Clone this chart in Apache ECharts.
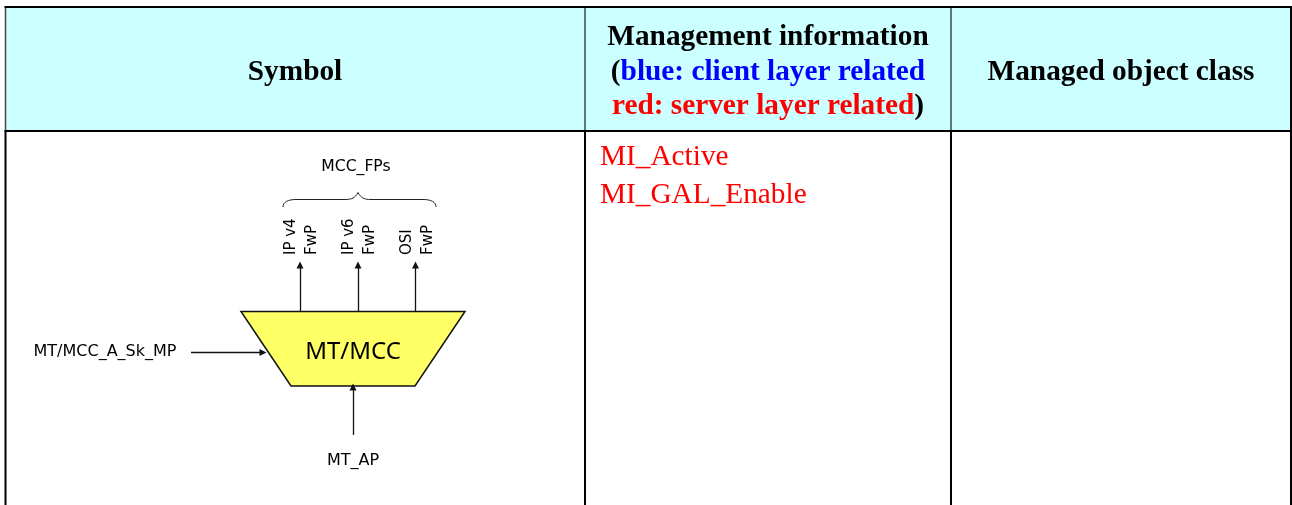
<!DOCTYPE html>
<html><head><meta charset="utf-8">
<style>html,body{margin:0;padding:0;background:#fff}#c{width:1292px;height:505px}</style>
<script src="https://cdn.jsdelivr.net/npm/echarts@6/dist/echarts.min.js"></script></head>
<body><div id="c"></div>
<script>
const SERIF='"Liberation Serif"', SANS='"DejaVu Sans"', BIG='"Noto Sans"';
const columnEdges=[5.5,585,951,1291];
const rowEdges=[7,131,505];
const headerFill='#ccffff';
const symbolOutline=[[241,311.5],[465,311.5],[415,386],[291,386]];
const arrows=[[[300,311],[300,265]],[[358,311],[358,265]],[[415.5,311],[415.5,265]],[[191,352.5],[263,352.5]],[[353,435],[353,387]]];
const brace=[[283,207],[283,202,288,199.5,296,199.5],[345,199.5],[352,199.5,355,198,358,192.5],[361,198,364,199.5,371,199.5],[423,199.5],[431,199.5,436,202,436,207]];
const labels=[
 ['Symbol',295,72,'bold 29.3px '+SERIF,'#000',0],
 ['Managed object class',1121,72,'bold 29.3px '+SERIF,'#000',0],
 ['MT/MCC',353,352,'24px '+BIG,'#000',0],
 ['MCC_FPs',356,167,'15.6px '+SANS,'#000',0],
 ['MT/MCC_A_Sk_MP',105,352,'16px '+SANS,'#000',0],
 ['MT_AP',353,461,'16px '+SANS,'#000',0]
];
const sideLabels=[['IP v4',291],['FwP',312],['IP v6',349],['FwP',370],['OSI',407],['FwP',428]];
const sideLabelBase=255;
const redItems=[['MI_Active',600,157],['MI_GAL_Enable',600,195]];
const headerLines=[
 [{t:'Management information',c:'#000'}],
 [{t:'(',c:'#000'},{t:'blue: client layer related',c:'#0000ff'}],
 [{t:'red: server layer related',c:'#ff0000'},{t:')',c:'#000'}]
];
const headerCenter=[768,[37,72,106]];

const chart=echarts.init(document.getElementById('c'),null,{renderer:'canvas'});
const hiddenAxis=(min,max,inverse)=>({type:'value',min,max,inverse,show:false,axisLine:{show:false},axisTick:{show:false},splitLine:{show:false},axisLabel:{show:false}});
const one=(fn)=>({type:'custom',coordinateSystem:'cartesian2d',clip:false,silent:true,animation:false,data:[[0,0]],renderItem:(p,api)=>fn(api)});
const P=(api,x,y)=>api.coord([x,y]);

const cells=one(api=>{
  const c=[];
  const tl=P(api,columnEdges[0],rowEdges[0]),br=P(api,columnEdges[3],rowEdges[1]);
  c.push({type:'rect',shape:{x:tl[0],y:tl[1],width:br[0]-tl[0],height:br[1]-tl[1]},style:{fill:headerFill}});
  const line=(x1,y1,x2,y2,w,col)=>{const a=P(api,x1,y1),b=P(api,x2,y2);c.push({type:'line',shape:{x1:a[0],y1:a[1],x2:b[0],y2:b[1]},style:{stroke:col,lineWidth:w}});};
  columnEdges.forEach((x,i)=>{
    line(x,rowEdges[0],x,rowEdges[1],i===3?2:1.5,i===3?'#000':'#444');
    line(x,rowEdges[1],x,rowEdges[2],2,'#000');
  });
  line(columnEdges[0]-1,rowEdges[0],columnEdges[3]+1,rowEdges[0],2,'#000');
  line(columnEdges[0]-1,rowEdges[1],columnEdges[3]+1,rowEdges[1],2,'#000');
  return {type:'group',children:c};
});
const outline=one(api=>({type:'polygon',shape:{points:symbolOutline.map(p=>P(api,p[0],p[1]))},style:{fill:'#ffff66',stroke:'#111',lineWidth:1.5}}));
const bracePath=one(api=>{
  const kids=[];let cur=P(api,brace[0][0],brace[0][1]);
  brace.slice(1).forEach(s=>{
    const st={fill:'none',stroke:'#222',lineWidth:1};
    if(s.length===2){const e=P(api,s[0],s[1]);kids.push({type:'line',shape:{x1:cur[0],y1:cur[1],x2:e[0],y2:e[1]},style:st});cur=e;}
    else{const a=P(api,s[0],s[1]),b=P(api,s[2],s[3]),e=P(api,s[4],s[5]);
      kids.push({type:'bezierCurve',shape:{x1:cur[0],y1:cur[1],cpx1:a[0],cpy1:a[1],cpx2:b[0],cpy2:b[1],x2:e[0],y2:e[1]},style:st});cur=e;}
  });
  return {type:'group',children:kids};
});
const arrowLines={type:'lines',coordinateSystem:'cartesian2d',polyline:false,silent:true,animation:false,clip:false,symbol:['none','triangle'],symbolSize:7,
  lineStyle:{color:'#111',width:1.3,opacity:1,curveness:0},data:arrows.map(a=>({coords:a}))};
const textSeries=one(api=>({type:'group',children:labels.map(l=>{const q=P(api,l[1],l[2]);return {type:'text',x:q[0],y:q[1],style:{text:l[0],font:l[3],fill:l[4],align:'center',verticalAlign:'middle'}};}).concat(
  sideLabels.map(l=>{const q=P(api,l[1],sideLabelBase);return {type:'text',x:q[0],y:q[1],rotation:Math.PI/2,style:{text:l[0],font:'15px '+SANS,fill:'#000',align:'left',verticalAlign:'middle'}};}),
  redItems.map(r=>{const q=P(api,r[1],r[2]);return {type:'text',x:q[0],y:q[1],style:{text:r[0],font:'29.3px '+SERIF,fill:'#ff0000',align:'left',verticalAlign:'middle'}};}),
  headerLines.map((ln,i)=>{
    const q=P(api,headerCenter[0],headerCenter[1][i]);
    const rich={};ln.forEach((s,k)=>{rich['s'+k]={font:'bold 29.3px '+SERIF,fill:s.c};});
    return {type:'text',x:q[0],y:q[1],style:{text:ln.map((s,k)=>'{s'+k+'|'+s.t+'}').join(''),rich,font:'bold 29.3px '+SERIF,align:'center',verticalAlign:'middle'}};
  })
)}));

chart.setOption({animation:false,backgroundColor:'#fff',
  grid:{left:0,right:0,top:0,bottom:0,containLabel:false},
  xAxis:hiddenAxis(0,1292,false),yAxis:hiddenAxis(0,505,true),
  series:[cells,outline,bracePath,arrowLines,textSeries]});
</script></body></html>
